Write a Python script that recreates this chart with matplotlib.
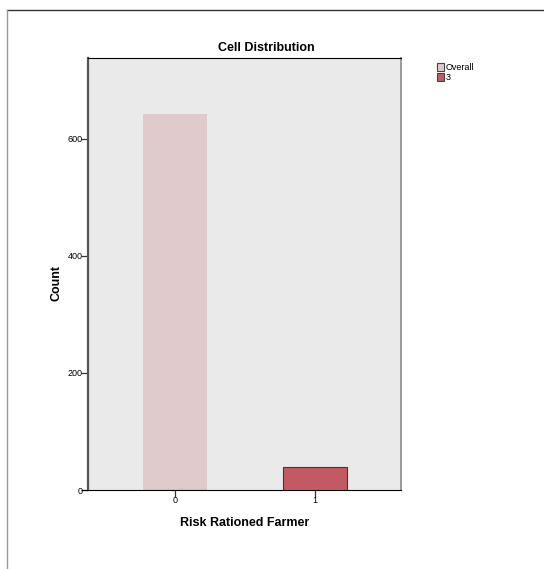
import matplotlib
matplotlib.use("Agg")
from matplotlib import pyplot as plt
from matplotlib.lines import Line2D
from matplotlib.patches import Patch

# data
categories = ["0", "1"]
overall_counts = [642, 0]
cell_counts = [0, 39]
y_ticks = [0, 200, 400, 600]
legend_labels = ["Overall", "3"]

plt.rcParams["font.family"] = ["Liberation Sans", "DejaVu Sans"]

bg = "#EAEAEA"
pink = "#E1CACC"
red = "#C45A61"

fig = plt.figure(figsize=(5.44, 5.69), dpi=100)
W, H = 544, 569
ax = fig.add_axes([88 / W, 1 - 490 / H, (401 - 88) / W, (490 - 58) / H])
ax.set_facecolor(bg)

x = list(range(len(categories)))
ax.bar(x, overall_counts, width=0.46, color=pink, edgecolor="none", zorder=2)
ax.bar(x, cell_counts, width=0.46, color=red, edgecolor="#3a3a3a", linewidth=0.8, zorder=3)

ax.set_xlim(-0.62, 1.615)
ax.set_ylim(0, 738)
ax.set_xticks(x)
ax.set_xticklabels(categories)
ax.set_yticks(y_ticks)
ax.tick_params(axis="both", labelsize=6.5, length=5, width=0.9, color="#333333")
ax.tick_params(axis="y", pad=-1)
ax.tick_params(axis="x", pad=-1)

ax.spines["top"].set_color("black")
ax.spines["left"].set_color("#555555")
ax.spines["left"].set_linewidth(1.6)
ax.spines["right"].set_color("#9a9a9a")
ax.spines["right"].set_linewidth(1.4)
ax.spines["bottom"].set_color("black")
ax.spines["bottom"].set_bounds(-0.66, 1.615)

ax.set_title("Cell Distribution", fontsize=9, fontweight="bold", pad=5, x=0.57)
ax.set_xlabel("Risk Rationed Farmer", fontsize=9, fontweight="bold", labelpad=9)
ax.set_ylabel("Count", fontsize=9, fontweight="bold")
ax.yaxis.set_label_coords(-0.08, 0.48)

handles = [Patch(facecolor=pink, edgecolor="#444444", linewidth=0.8),
           Patch(facecolor=red, edgecolor="#444444", linewidth=0.8)]
fig.legend(handles, legend_labels, loc="upper left", bbox_to_anchor=(437 / W, 1 - 63 / H),
           frameon=False, fontsize=6.5, handlelength=0.8, handleheight=0.9,
           handletextpad=0.2, labelspacing=0.15, borderaxespad=0, borderpad=0)

# outer frame lines
fig.add_artist(Line2D([7 / W, 1], [1 - 9.5 / H, 1 - 9.5 / H], color="#333333", linewidth=1.0))
fig.add_artist(Line2D([6.5 / W, 6.5 / W], [0, 1 - 10 / H], color="#999999", linewidth=1.0))

fig.savefig("out.png", dpi=100)
